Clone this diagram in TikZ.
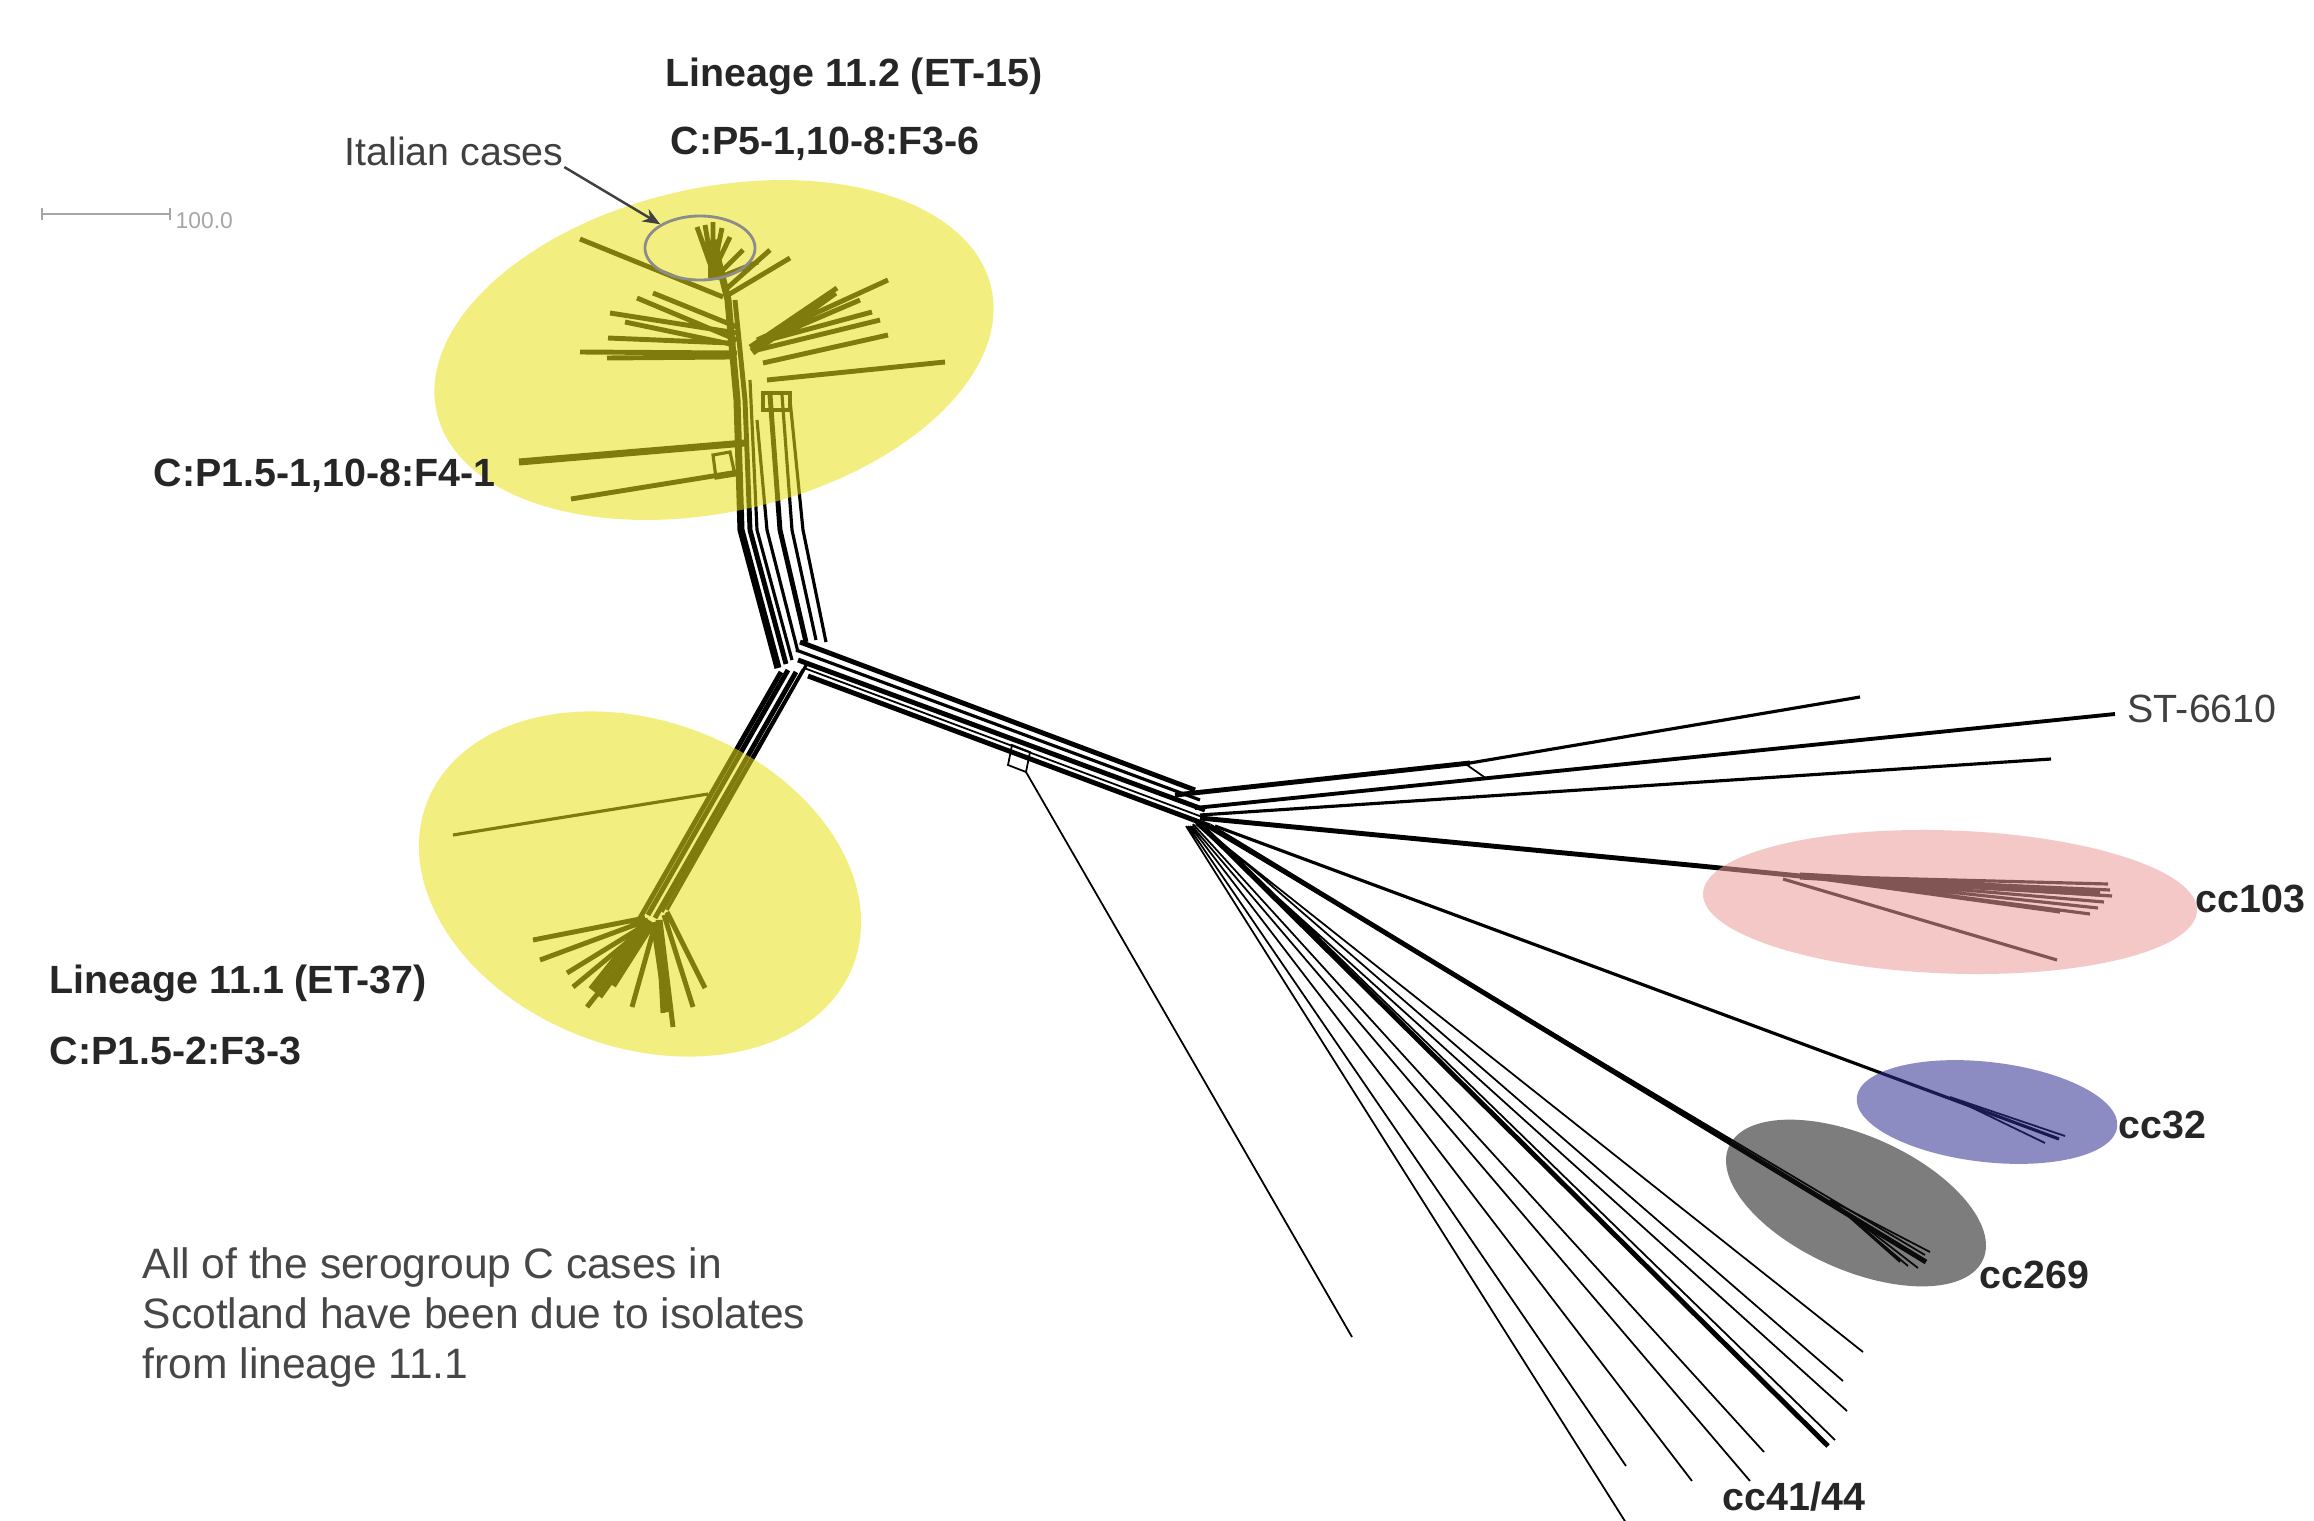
\documentclass[tikz,border=0pt]{standalone}
\usepackage{fontspec}
\setmainfont{Liberation Sans}
\usetikzlibrary{shapes.geometric, arrows.meta}

\begin{document}
\begin{tikzpicture}[x=0.01cm, y=-0.01cm, >={Stealth[length=5pt, width=4pt]},
  lbl/.style={anchor=base west, inner sep=0pt, font=\fontsize{11.2pt}{13pt}\selectfont\bfseries, text=black!85},
  note/.style={anchor=base west, inner sep=0pt, font=\fontsize{11.2pt}{13pt}\selectfont, text=black!75},
  branch/.style={line width=0.5pt},
  midbr/.style={line width=0.9pt},
  stem/.style={line width=1.4pt},
  hl/.style={fill opacity=0.55}]
  \definecolor{yellowhl}{RGB}{233,226,24}
  \definecolor{pinkhl}{RGB}{237,155,155}
  \definecolor{bluehl}{RGB}{46,46,146}
  \definecolor{grayhl}{RGB}{20,20,20}
  \useasboundingbox (0,0) rectangle (2314,1521);
  \fill[white] (0,0) rectangle (2314,1521);

  \coordinate (junc) at (793,657);
  \coordinate (hub) at (1205,815);

  % band from junction to hub
  \draw[stem] (800,642) -- (1195,790);
  \draw[midbr] (796,650) -- (1200,800);
  \draw[stem] (798,660) -- (1205,810);
  \draw[branch] (804,668) -- (1205,818);
  \draw[stem] (808,676) -- (1210,826);
  \draw[branch] (1012,745) -- (1030,752) -- (1026,772) -- (1008,765) -- cycle;
  \draw[branch] (1026,772) -- (1352,1337);

  % lineage 11.1
  \draw[stem] (788,670) -- (648,915);
  \draw[stem] (796,672) -- (655,918);
  \draw[stem] (781,672) -- (640,918);
  \draw[midbr] (803,670) -- (662,912);
  \draw[midbr] (808,662) -- (667,910);
  \draw[midbr] (708,794) -- (453,835);
  \draw[stem] (645,918) -- (533,940) (648,920) -- (540,960) (645,925) -- (567,973)
    (648,925) -- (573,987) (650,928) -- (587,1007) (652,925) -- (600,997)
    (655,925) -- (632,1007) (658,920) -- (663,1013) (660,920) -- (673,1027)
    (664,915) -- (693,1007) (667,912) -- (705,988);
  \draw[line width=2.5pt] (648,920) -- (592,990) (655,922) -- (668,1012) (652,922) -- (612,985);

  % lineage 11.2
  \draw[line width=2pt] (778,668) -- (741,530) -- (737,400) -- (728,300) -- (713,240);
  \draw[stem] (786,664) -- (750,530) -- (745,400) -- (735,300);
  \draw[midbr] (792,660) -- (757,530) -- (750,380);
  \draw[midbr] (798,652) -- (767,530) -- (757,420);
  \draw[stem] (806,642) -- (780,530) -- (770,395);
  \draw[midbr] (816,640) -- (792,530) -- (782,395);
  \draw[midbr] (826,642) -- (803,530) -- (790,400);
  \draw[midbr] (713,455) -- (730,452) -- (735,475) -- (716,478) -- cycle;
  \draw[midbr] (763,393) -- (790,393) -- (790,410) -- (763,410) -- cycle;
  \draw[stem] (723,297) -- (580,239) (737,340) -- (637,298) (737,327) -- (653,293)
    (737,333) -- (610,313) (730,343) -- (608,338) (737,353) -- (580,352)
    (730,357) -- (607,358) (738,472) -- (571,499) (735,345) -- (625,322);
  \draw[line width=2pt] (745,443) -- (519,462);
  \draw[stem] (750,347) -- (837,288) (757,340) -- (888,280) (757,343) -- (872,312)
    (757,350) -- (880,320) (763,363) -- (888,335) (767,380) -- (945,362)
    (755,345) -- (860,300);
  \draw[line width=2.2pt] (752,352) -- (835,292);
  \draw[stem] (713,272) -- (713,222) (713,272) -- (697,227) (713,272) -- (705,225)
    (713,272) -- (722,228) (713,272) -- (730,237) (718,275) -- (743,250)
    (725,290) -- (770,250) (728,295) -- (790,258) (718,278) -- (758,262);
  \draw[line width=3pt] (713,280) -- (713,245);

  % upper fan and ST-6610
  \draw[stem] (1175,795) -- (1470,763);
  \draw[midbr] (1470,763) -- (1860,697);
  \draw[branch] (1467,765) -- (1487,779);
  \draw[line width=1.1pt] (1195,808) -- (2115,714);
  \draw[midbr] (1200,815) -- (2051,759);

  % cc103
  \draw[stem] (1200,818) -- (1700,866) -- (1800,876);
  \draw[midbr] (1800,876) -- (2108,884) (1800,876) -- (2110,890) (1800,876) -- (2112,896)
    (1800,876) -- (2104,902) (1800,876) -- (2098,908) (1800,876) -- (2090,914)
    (1800,876) -- (2060,912);
  \draw[line width=2pt] (1800,876) -- (2100,893);
  \draw[midbr] (1783,879) -- (2057,960);

  % cc32 and cc269
  \draw[midbr] (1215,826) -- (2059,1139);
  \draw[branch] (1950,1097) -- (2045,1143) (1950,1097) -- (2065,1136);
  \draw[stem] (1210,826) -- (1926,1262);
  \draw[branch] (1205,826) -- (1925,1255);
  \draw[branch] (1830,1200) -- (1918,1268) (1830,1200) -- (1908,1266)
    (1830,1200) -- (1930,1252) (1830,1200) -- (1900,1262);

  % lower fan
  \draw[branch] (1195,822) -- (1863,1352) (1198,822) -- (1843,1381)
    (1196,824) -- (1847,1411) (1202,824) -- (1835,1440) (1193,824) -- (1764,1452)
    (1192,826) -- (1750,1481) (1190,826) -- (1692,1481) (1188,826) -- (1626,1466)
    (1186,826) -- (1640,1545);
  \draw[stem] (1200,824) -- (1828,1446);

  % highlighted groups
  \fill[yellowhl, hl, rotate around={12.6:(714,350)}] (714,350) ellipse [x radius=2.84cm, y radius=1.62cm];
  \fill[yellowhl, hl, rotate around={-20.7:(640,884)}] (640,884) ellipse [x radius=2.28cm, y radius=1.63cm];
  \fill[pinkhl, hl, rotate around={-2:(1950,902)}] (1950,902) ellipse [x radius=2.47cm, y radius=0.715cm];
  \fill[bluehl, hl, rotate around={-6.5:(1987,1112)}] (1987,1112) ellipse [x radius=1.31cm, y radius=0.5cm];
  \fill[grayhl, hl, rotate around={-24:(1856,1203)}] (1856,1203) ellipse [x radius=1.39cm, y radius=0.67cm];

  % scale bar
  \draw[black!35, line width=0.6pt] (42,208) -- (42,220) (42,214) -- (170,214) (170,208) -- (170,220);
  \node[anchor=base west, inner sep=0pt, font=\fontsize{6.5pt}{7pt}\selectfont, text=black!35] (scale) at (175,228) {100.0};

  % labels
  \node[lbl] (lin12) at (665,87) {Lineage 11.2 (ET-15)};
  \node[lbl] (type12) at (670,154) {C:P5-1,10-8:F3-6};
  \node[note] (italian) at (344,166) {Italian cases};
  \node[draw=black!45, line width=0.8pt, ellipse, minimum width=1.1cm, minimum height=0.64cm, inner sep=0pt] (italy) at (700,248) {};
  \draw[->, black!75, line width=0.7pt] (italian.south east) -- (italy);
  \node[lbl] (type12b) at (153,486) {C:P1.5-1,10-8:F4-1};
  \node[lbl] (lin11) at (49,993) {Lineage 11.1 (ET-37)};
  \node[lbl] (type11) at (49,1064) {C:P1.5-2:F3-3};
  \node[note] (st) at (2127,722) {ST-6610};
  \node[lbl] (cc103) at (2195,912) {cc103};
  \node[lbl] (cc32) at (2118,1138) {cc32};
  \node[lbl] (cc269) at (1979,1288) {cc269};
  \node[lbl] (cc41) at (1722,1510) {cc41/44};
  \node[anchor=base west, inner sep=0pt, align=left, font=\fontsize{12.1pt}{14.2pt}\selectfont, text=black!72] (caption) at (142,1378)
    {All of the serogroup C cases in\\Scotland have been due to isolates\\from lineage 11.1};
\end{tikzpicture}
\end{document}
